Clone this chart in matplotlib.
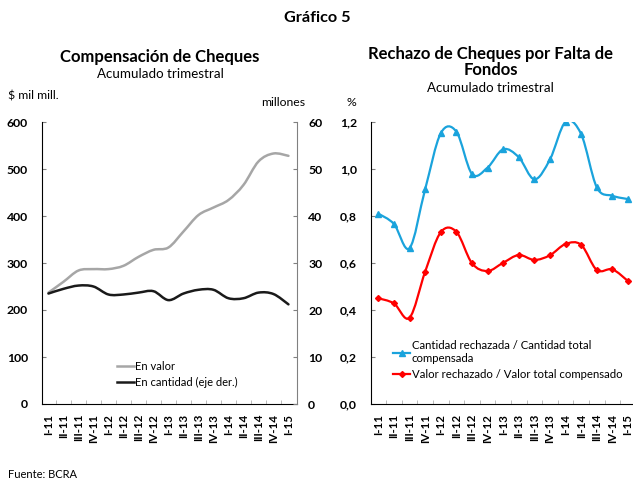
import numpy as np
import matplotlib
matplotlib.use("Agg")
import matplotlib.pyplot as plt
from matplotlib.path import Path
from matplotlib.patches import PathPatch
from matplotlib.lines import Line2D

plt.rcParams['font.family'] = ['Lato', 'DejaVu Sans']

# datos
trimestres = ['I-11', 'II-11', 'III-11', 'IV-11', 'I-12', 'II-12', 'III-12', 'IV-12',
              'I-13', 'II-13', 'III-13', 'IV-13', 'I-14', 'II-14', 'III-14', 'IV-14', 'I-15']
en_valor = [237, 260, 284, 287, 287, 294, 313, 328, 333, 367, 402, 418, 434, 466, 516, 533, 528]
en_cantidad = [23.5, 24.5, 25.2, 25.0, 23.3, 23.3, 23.7, 24.0, 22.1, 23.5, 24.3, 24.3,
               22.5, 22.5, 23.7, 23.4, 21.2]
cant_rech = [0.81, 0.766, 0.663, 0.914, 1.152, 1.159, 0.979, 1.006, 1.084, 1.05, 0.956,
             1.041, 1.201, 1.148, 0.922, 0.886, 0.872]
valor_rech = [0.45, 0.428, 0.367, 0.563, 0.731, 0.733, 0.599, 0.566, 0.601, 0.634, 0.613,
              0.633, 0.681, 0.677, 0.57, 0.573, 0.523]

W, H = 633, 479
fig = plt.figure(figsize=(W / 100, H / 100), dpi=100)


def smooth(ax, x, y, **kw):
    # curva suavizada tipo excel (catmull-rom -> bezier)
    x = np.asarray(x, float)
    y = np.asarray(y, float)
    p = np.column_stack([x, y])
    verts = [p[0]]
    codes = [Path.MOVETO]
    n = len(p)
    for i in range(n - 1):
        p0 = p[i - 1] if i > 0 else p[i]
        p1 = p[i]
        p2 = p[i + 1]
        p3 = p[i + 2] if i + 2 < n else p[i + 1]
        c1 = p1 + (p2 - p0) / 6
        c2 = p2 - (p3 - p1) / 6
        verts += [c1, c2, p2]
        codes += [Path.CURVE4] * 3
    ax.add_patch(PathPatch(Path(verts, codes), fill=False, capstyle='round', **kw))


def px_axes(x0, y0, x1, y1):
    return fig.add_axes([x0 / W, 1 - y1 / H, (x1 - x0) / W, (y1 - y0) / H])


x = np.arange(len(trimestres))
tick_font = dict(fontsize=8.8, fontweight='bold')
xtick_font = dict(fontsize=8.3, fontweight='bold')

# ---------------- grafico izquierdo
ax1 = px_axes(42, 122, 297, 404)
ax2 = ax1.twinx()
smooth(ax1, x, en_valor, edgecolor='#a6a6a6', linewidth=1.8)
smooth(ax2, x, en_cantidad, edgecolor='#1a1a1a', linewidth=1.8)
ax1.set_xlim(-0.43, 16.57)
ax1.set_ylim(0, 600)
ax2.set_ylim(0, 60)
ax1.set_yticks(range(0, 601, 100))
ax2.set_yticks(range(0, 61, 10))
for a in (ax1, ax2):
    a.spines['top'].set_visible(False)
ax1.spines['right'].set_visible(False)
ax2.spines['left'].set_visible(False)
ax2.spines['bottom'].set_visible(False)
ax2.spines['right'].set_color('#808080')
ax1.tick_params(axis='y', direction='in', length=3, pad=10, color='#808080')
ax2.tick_params(axis='y', direction='in', length=3, pad=8, color='#808080')
ax1.set_yticklabels([str(v) for v in range(0, 601, 100)], **tick_font)
ax2.set_yticklabels([str(v) for v in range(0, 61, 10)], **tick_font)

ax1.set_xticks(x)
ax1.set_xticklabels(trimestres, rotation=90, **xtick_font)
ax1.tick_params(axis='x', length=0, pad=7)
ax1.set_xticks(x[:-1] + 0.5, minor=True)
ax1.tick_params(axis='x', which='minor', direction='in', length=3, color='#b0b0b0')

h1 = [Line2D([], [], color='#a6a6a6', lw=1.8), Line2D([], [], color='#1a1a1a', lw=1.8)]
ax1.legend(h1, ['En valor', 'En cantidad (eje der.)'], loc='lower left',
           bbox_to_anchor=(0.255, 0.02), frameon=False, fontsize=8,
           handlelength=1.5, handletextpad=0.15, labelspacing=0.45)

# ---------------- grafico derecho
ax3 = px_axes(371, 122, 633, 404)
blue = '#1aa3dc'
red = '#ff0000'
smooth(ax3, x, cant_rech, edgecolor=blue, linewidth=1.6)
smooth(ax3, x, valor_rech, edgecolor=red, linewidth=1.6)
ax3.plot(x, cant_rech, linestyle='none', marker='^', markersize=5, color=blue)
ax3.plot(x, valor_rech, linestyle='none', marker='D', markersize=3, color=red)
ax3.set_xlim(-0.47, 16.32)
ax3.set_ylim(0, 1.2)
yt = np.arange(0, 1.21, 0.2)
ax3.set_yticks(yt)
ax3.set_yticklabels([f'{v:.1f}'.replace('.', ',') for v in yt], **tick_font)
ax3.tick_params(axis='y', direction='in', length=3, pad=10, color='#808080')
ax3.spines['top'].set_visible(False)
ax3.spines['right'].set_visible(False)
ax3.set_xticks(x)
ax3.set_xticklabels(trimestres, rotation=90, **xtick_font)
ax3.tick_params(axis='x', length=0, pad=7)
ax3.set_xticks(x[:-1] + 0.5, minor=True)
ax3.tick_params(axis='x', which='minor', direction='in', length=3, color='#b0b0b0')

h3 = [Line2D([], [], color=blue, lw=1.6, marker='^', markersize=5),
      Line2D([], [], color=red, lw=1.6, marker='D', markersize=3)]
ax3.legend(h3, ['Cantidad rechazada / Cantidad total\ncompensada',
                'Valor rechazado / Valor total compensado'],
           loc='lower left', bbox_to_anchor=(0.045, 0.05), frameon=False, fontsize=8.2,
           handlelength=1.5, handletextpad=0.15, labelspacing=0.4)

# ---------------- textos
def ftext(px, py, s, **kw):
    fig.text(px / W, 1 - py / H, s, **kw)

ftext(317, 18, 'Gráfico 5', ha='center', va='center', fontsize=11.7, fontweight='bold')
ftext(160, 57, 'Compensación de Cheques', ha='center', va='center', fontsize=12, fontweight='bold')
ftext(160, 74, 'Acumulado trimestral', ha='center', va='center', fontsize=9.6)
ftext(8, 96, '$ mil mill.', ha='left', va='center', fontsize=8.8)
ftext(283, 102, 'millones', ha='center', va='center', fontsize=8.8)
ftext(351, 102, '%', ha='center', va='center', fontsize=8.8)
ftext(491, 62, 'Rechazo de Cheques por Falta de\nFondos', ha='center', va='center',
      fontsize=12, fontweight='bold', linespacing=0.95)
ftext(490, 88, 'Acumulado trimestral', ha='center', va='center', fontsize=9.6)
ftext(8, 474, 'Fuente: BCRA', ha='left', va='center', fontsize=8)

fig.savefig('out.png', dpi=100)
